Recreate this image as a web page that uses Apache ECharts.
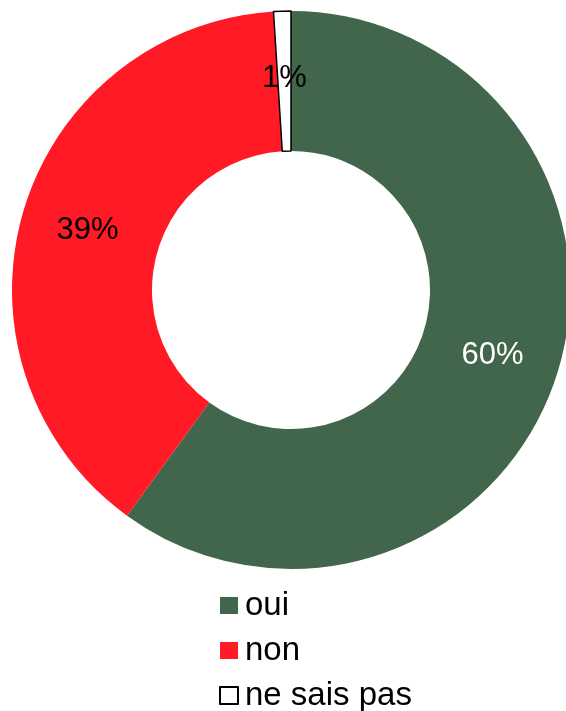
<!DOCTYPE html>
<html>
<head>
<meta charset="utf-8">
<script src="https://cdn.jsdelivr.net/npm/echarts@6/dist/echarts.min.js"></script>
<style>
  html, body { margin: 0; padding: 0; background: #ffffff; }
  #chart { width: 566px; height: 711px; }
</style>
</head>
<body>
<div id="chart"></div>
<script>
// Answers and their share (%)
var categories = ["oui", "non", "ne sais pas"];
var values = [60, 39, 1];
var colors = ["#41664b", "#ff1a25", "#ffffff"];
var labelColors = ["#ffffff", "#000000", "#000000"];

var font = "'Liberation Sans', Arial, sans-serif";

var pieData = categories.map(function (name, i) {
  var item = {
    name: name,
    value: values[i],
    itemStyle: { color: colors[i] },
    label: { color: labelColors[i] }
  };
  // white slice gets a thin black outline
  if (colors[i] == "#ffffff") {
    item.itemStyle.borderColor = "#000000";
    item.itemStyle.borderWidth = 1.5;
  }
  return item;
});

var myChart = echarts.init(document.getElementById('chart'));
var option = {
  animation: false,
  backgroundColor: "#ffffff",
  legend: {
    orient: 'vertical',
    left: 219,
    top: 589,
    height: 150,
    padding: 0,
    itemWidth: 18,
    itemHeight: 17,
    itemGap: 12,
    icon: 'rect',
    data: categories,
    textStyle: {
      fontFamily: font,
      fontSize: 33,
      color: '#000000',
      padding: [0, 0, 0, 2]
    }
  },
  series: [
    {
      name: 'Réponse',
      type: 'pie',
      center: [291, 290],
      radius: [139, 279],
      startAngle: 90,
      clockwise: true,
      avoidLabelOverlap: false,
      label: {
        show: true,
        position: 'inside',
        fontFamily: font,
        fontSize: 31,
        formatter: function (p) { return p.value + '%'; }
      },
      labelLine: { show: false },
      emphasis: { disabled: true },
      data: pieData
    }
  ]
};
option && myChart.setOption(option);
</script>
</body>
</html>
